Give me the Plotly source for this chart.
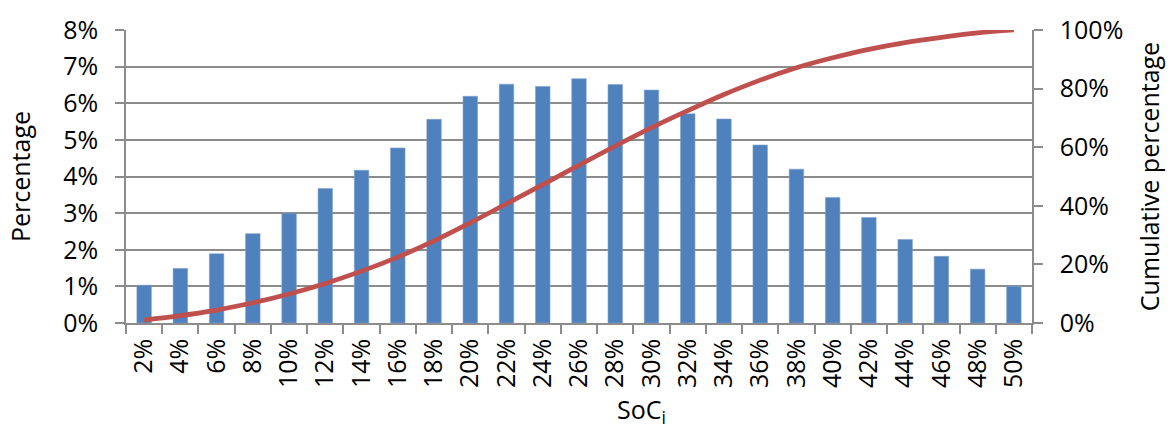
import plotly.graph_objects as go

# SoC bins (category labels)
soc_labels = [f"{v}%" for v in range(2, 52, 2)]

# Share of samples per SoC bin (fraction)
share = [0.0103, 0.0149, 0.0189, 0.0244, 0.0300, 0.0367, 0.0417, 0.0478, 0.0556,
         0.0619, 0.0652, 0.0646, 0.0667, 0.0651, 0.0636, 0.0571, 0.0557, 0.0486,
         0.0420, 0.0343, 0.0288, 0.0228, 0.0182, 0.0147, 0.0100]

# Running cumulative share (fraction)
cumulative = [0.010, 0.025, 0.044, 0.069, 0.099, 0.135, 0.177, 0.225, 0.280,
              0.342, 0.407, 0.472, 0.539, 0.604, 0.667, 0.725, 0.780, 0.829,
              0.871, 0.905, 0.934, 0.957, 0.975, 0.990, 1.000]

left_ticks = [i / 100 for i in range(0, 9)]
right_ticks = [i / 100 for i in range(0, 101, 20)]

FONT = "Open Sans"
GRID = "#8c8c8c"
TXT = "#000000"
FS = 25

fig = go.Figure()
fig.add_trace(go.Bar(
    x=soc_labels, y=share, name="Percentage",
    marker=dict(color="#4F81BD", line=dict(color="#7fa3d0", width=0.6)),
    yaxis="y",
))
fig.add_trace(go.Scatter(
    x=soc_labels, y=cumulative, name="Cumulative percentage",
    mode="lines", line=dict(color="#C0504D", width=4.7, shape="spline"),
    yaxis="y2",
))

fig.update_layout(
    width=1174, height=430,
    margin=dict(l=126, r=142, t=20, b=107),
    paper_bgcolor="white", plot_bgcolor="white",
    showlegend=False,
    bargap=0.6,
    font=dict(family=FONT, size=FS, color=TXT),
    xaxis=dict(
        type="category",
        tickangle=-90,
        tickson="boundaries",
        ticks="outside", ticklen=9, tickcolor=GRID, tickwidth=1.5,
        showline=True, linecolor=GRID, linewidth=1.5,
        showgrid=False,
        tickfont=dict(size=FS),
        ticklabelstandoff=4,
    ),
    yaxis=dict(
        range=[0, 0.08],
        tickvals=left_ticks,
        tickformat=".0%",
        title=dict(text="Percentage", font=dict(size=FS), standoff=26),
        ticks="outside", ticklen=9, tickcolor=GRID, tickwidth=1.5,
        showline=True, linecolor=GRID, linewidth=1.5,
        showgrid=True, gridcolor=GRID, gridwidth=1.5,
        zeroline=False,
        tickfont=dict(size=FS),
        ticklabelstandoff=12,
    ),
    yaxis2=dict(
        range=[0, 1.0],
        tickvals=right_ticks,
        tickformat=".0%",
        overlaying="y", side="right",
        title=dict(text="Cumulative percentage", font=dict(size=FS), standoff=19),
        ticks="outside", ticklen=9, tickcolor=GRID, tickwidth=1.5,
        showline=True, linecolor=GRID, linewidth=1.5,
        showgrid=False, zeroline=False,
        tickfont=dict(size=FS),
        ticklabelstandoff=12,
    ),
    annotations=[dict(
        text="SoC<sub>i</sub>", xref="paper", yref="paper",
        x=0.5695, y=-0.232, xanchor="center", yanchor="top",
        showarrow=False, borderpad=0, font=dict(size=FS, color=TXT),
    )],
)

fig.write_html("out.html")
